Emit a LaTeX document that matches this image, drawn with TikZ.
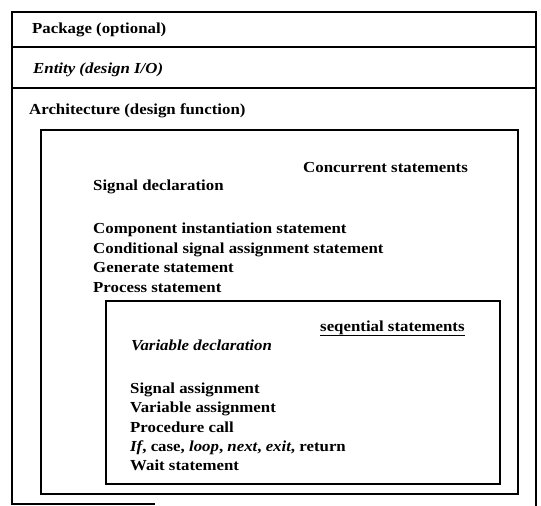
\documentclass[tikz,border=0pt]{standalone}
\usepackage{fontspec}
\setmainfont{Liberation Serif}[FakeStretch=1.1]
\begin{document}
\begin{tikzpicture}[x=1pt,y=-1pt,
  frame/.style={line width=1.1pt, black},
  label/.style={anchor=base west, inner sep=0pt, font=\fontsize{15.3}{18}\selectfont\bfseries},
  ilabel/.style={label, font=\fontsize{15.3}{18}\selectfont\bfseries\itshape}]
\useasboundingbox (0,0) rectangle (541,506);

% outer frame with its three bands
\draw[frame] (12,505) -- (12,12) -- (536,12) -- (536,506);
\draw[frame] (12,504) -- (155,504);
\draw[frame] (12,47) -- (536,47);
\draw[frame] (12,88) -- (536,88);

\node[label]  (pkg)  at (32,34)  {Package (optional)};
\node[ilabel] (ent)  at (33,73)  {Entity (design I/O)};
\node[label]  (arch) at (29,114) {Architecture (design function)};

% concurrent region
\draw[frame] (41,130) rectangle (518,494);
\node[label] (conc) at (303,172) {Concurrent statements};
\node[label] (sdec) at (93,190) {Signal declaration};
\node[label] (comp) at (93,233) {Component instantiation statement};
\node[label] (cond) at (93,253) {Conditional signal assignment statement};
\node[label] (gen)  at (93,272) {Generate statement};
\node[label] (proc) at (93,292) {Process statement};

% sequential region (inside the process)
\draw[frame] (106,301) rectangle (500,484);
\node[label] (seq) at (320,331) {seqential statements};
\draw[line width=0.9pt] ([yshift=-4pt]seq.base west) -- ([yshift=-4pt]seq.base east);
\node[ilabel] (vdec)  at (131,350) {Variable declaration};
\node[label]  (sasg)  at (130,393) {Signal assignment};
\node[label]  (vasg)  at (130,412) {Variable assignment};
\node[label]  (pcall) at (130,432) {Procedure call};
\node[label]  (ctl)   at (130,451) {\textit{If}, case, \textit{loop}, \textit{next}, \textit{exit}, return};
\node[label]  (wait)  at (130,470) {Wait statement};
\end{tikzpicture}
\end{document}
